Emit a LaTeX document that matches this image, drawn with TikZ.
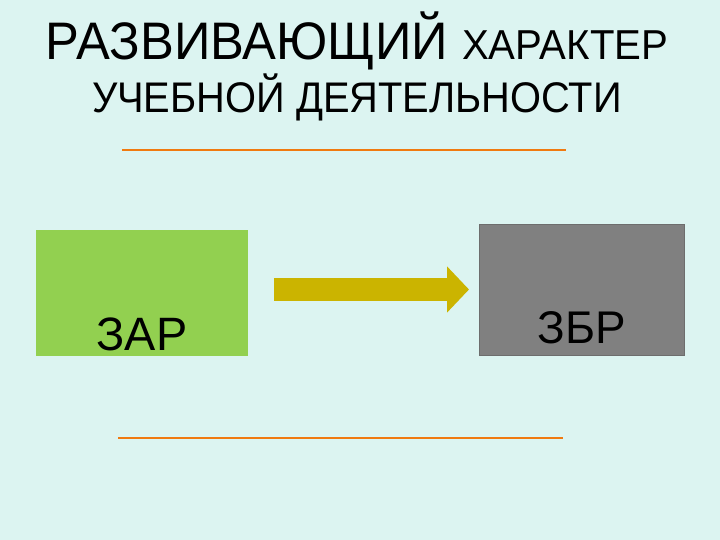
\documentclass[tikz,border=0pt]{standalone}
\usepackage{fontspec}
\setmainfont{Liberation Sans}
\newfontfamily\titlefont{Liberation Sans}[FakeStretch=0.96]
\newfontfamily\subtitlefont{Liberation Sans}[FakeStretch=0.93]
\usetikzlibrary{positioning,arrows.meta}
\definecolor{bgcyan}{HTML}{DCF4F1}
\definecolor{zargreen}{HTML}{92D050}
\definecolor{zbrgray}{HTML}{808080}
\definecolor{arrowgold}{HTML}{CBB400}
\definecolor{lineorange}{HTML}{F07A10}

\begin{document}
\begin{tikzpicture}
    [x=1bp,y=-1bp,every node/.style={inner sep=0pt, outer sep=0pt},
     titletext/.style={anchor=base},
     box/.style={rectangle, minimum width=#1},
     bigarrow/.style={draw=arrowgold, line width=23bp, -{Triangle[length=22bp,width=45bp]}}]
  \useasboundingbox[fill=bgcyan] (0,0) rectangle (720,540);

  \node[titletext, font=\titlefont] (t1) at (357,60)
    {\fontsize{53}{60}\selectfont РАЗВИВАЮЩИЙ \fontsize{42}{50}\selectfont ХАРАКТЕР};
  \node[titletext, font=\subtitlefont] (t2) at (357,113)
    {\fontsize{43}{50}\selectfont УЧЕБНОЙ ДЕЯТЕЛЬНОСТИ};

  \node[box=212bp, minimum height=126bp, fill=zargreen,
    label={[anchor=base, yshift=6bp, font=\fontsize{47}{50}\selectfont]south:ЗАР}] (zar) at (142,293) {};
  \node[box=205bp, minimum height=131bp, fill=zbrgray, draw=zbrgray!85!black,
    label={[anchor=base, yshift=12bp, font=\fontsize{46}{50}\selectfont]south:ЗБР}] (zbr) at (581.5,289.5) {};

  \draw[bigarrow] ([xshift=26bp]zar.east |- zbr.west) -- ([xshift=-10bp]zbr.west);

  \foreach \ya/\xa/\xb in {150/122/566, 438/118/563}
    \draw[lineorange, line width=2.2bp] (\xa,\ya) -- (\xb,\ya);
\end{tikzpicture}
\end{document}
